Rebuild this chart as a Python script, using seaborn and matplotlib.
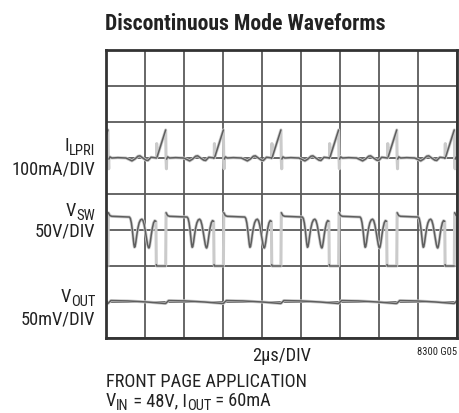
import numpy as np
import pandas as pd
import matplotlib
matplotlib.use("Agg")
import matplotlib.pyplot as plt
import seaborn as sns
from matplotlib import font_manager

# ---- data ----
# turn-off instants of the primary switch (peaks of I_LPRI), in microseconds
switch_off_us = [-2.86, 0.10, 3.06, 6.02, 8.97, 11.93, 14.91, 17.86]

# one switching period of each trace, time relative to turn-off (us)
ilpri_t = [-0.47, -0.46, -0.45, -0.44, 0.00, 0.01, 0.02, 0.04, 0.05, 0.10, 0.20,
           0.51, 0.92, 1.08, 1.23, 1.38, 1.54, 1.64, 1.79, 1.95, 2.05, 2.21, 2.36, 2.49]
ilpri_mA = [0, 40, 4, 3, 78, 40, -5, -30, -3, 3, 0,
            1, 0, -4, -8, -3, 5, 6, 0, -6, -7, 2, 1, 0]
# points where a fast (faint) edge ends and a new solid piece begins
ilpri_fast = [1, 2, 3, 5, 6, 7, 8]

vsw_t = [0.00, 0.02, 0.10, 0.20, 1.10, 1.15, 1.20, 1.25, 1.30, 1.33, 1.36, 1.39,
         1.43, 1.48, 1.54, 1.60, 1.67, 1.74, 1.80, 1.86, 1.92, 1.98, 2.03, 2.07,
         2.10, 2.13, 2.17, 2.22, 2.28, 2.34, 2.40, 2.46, 2.48, 2.50, 2.95]
vsw_V = [0, 74, 70, 69, 68, 66, 60, 50, 37, 30, 26, 27,
         33, 43, 53, 60, 64, 65, 63, 57, 48, 38, 30, 26,
         25, 27, 33, 43, 53, 60, 63, 62, 2, 0, 0]
vsw_fast = [1, 32]

vout_t = [0.00, 0.15, 1.00, 2.00, 2.90]
vout_mV = [-2, 2, 1.5, 0, -2]
vout_fast = []

trace_names = ["I_LPRI", "V_SW", "V_OUT"]
per_div = [100.0, 50.0, 50.0]
offset_div = [5.0, 2.0, 1.0]
templates = [(ilpri_t, ilpri_mA, ilpri_fast), (vsw_t, vsw_V, vsw_fast),
             (vout_t, vout_mV, vout_fast)]

rows = []
piece = 0
for name, scale, off, (tt, vv, fast) in zip(trace_names, per_div, offset_div, templates):
    piece += 1
    for t0 in switch_off_us:
        for k, (t, v) in enumerate(zip(tt, vv)):
            if k in fast:
                piece += 1
            rows.append({"time": t0 + t, "div": off + v / scale, "trace": name,
                         "piece": piece})
df = pd.DataFrame(rows)

# ---- fonts ----
names = {f.name for f in font_manager.fontManager.ttflist}
fam = None
for cand in ["Liberation Sans Narrow", "Roboto Condensed", "DejaVu Sans Condensed",
             "Open Sans Condensed", "Noto Sans Condensed"]:
    if cand in names:
        fam = cand
        break

sns.set_style("white")
if fam:
    plt.rcParams["font.family"] = [fam, "DejaVu Sans"]
    SHRINK = 1.0
else:
    plt.rcParams["font.family"] = ["DejaVu Sans"]
    SHRINK = 0.85

W, H = 459, 414
fig = plt.figure(figsize=(W / 100, H / 100), dpi=100)
L, R, T, B = 106, 457, 51, 339
ax = fig.add_axes([L / W, 1 - B / H, (R - L) / W, (B - T) / H])

# faint halo: whole trace including the fast edges
sns.lineplot(data=df, x="time", y="div", hue="trace", units="trace", estimator=None,
             sort=False, palette={n: "#cbcbcb" for n in trace_names}, linewidth=2.2,
             legend=False, ax=ax)
# solid core: slow parts only
sns.lineplot(data=df, x="time", y="div", hue="trace", units="piece", estimator=None,
             sort=False, palette={n: "#5e5e5e" for n in trace_names}, linewidth=1.1,
             legend=False, ax=ax)

ax.set_xlim(0, 18)
ax.set_ylim(0, 8)
ax.set_xticks(np.arange(0, 19, 2))
ax.set_yticks(np.arange(0, 9, 1))
ax.grid(True, color="#5a5a5a", linewidth=1.3)
ax.set_axisbelow(True)
ax.tick_params(length=0, labelbottom=False, labelleft=False)
ax.set_xlabel("")
ax.set_ylabel("")
for s in ax.spines.values():
    s.set_visible(True)
    s.set_color("#333333")
    s.set_linewidth(2.0)


def px(x, y):
    return x / W, 1 - y / H


fs = 13.2 * SHRINK
SUB = 0.8
SUB_DROP = 4.0
COL = "#222222"
renderer = fig.canvas.get_renderer()


def text_width(s, size):
    t = fig.text(0, 0, s, fontsize=size)
    w = t.get_window_extent(renderer).width
    t.remove()
    return w


def rich(x, y, parts, ha="left"):
    """parts: list of (string, is_subscript); x,y in pixels (baseline)."""
    widths = [text_width(s, fs * (SUB if sub else 1.0)) for s, sub in parts]
    x0 = x - sum(widths) if ha == "right" else x
    for (s, sub), w in zip(parts, widths):
        fig.text(*px(x0, y + (SUB_DROP if sub else 0)), s, fontsize=fs * (SUB if sub else 1.0),
                 ha="left", va="baseline", color=COL)
        x0 += w


fig.text(*px(105, 29.5), "Discontinuous Mode Waveforms", fontsize=15.7 * SHRINK,
         fontweight="bold", ha="left", va="baseline", color=COL)

rich(95, 150.7, [("I", False), ("LPRI", True)], ha="right")
fig.text(*px(95, 174.3), "100mA/DIV", fontsize=fs, ha="right", va="baseline", color=COL)
rich(95, 216.0, [("V", False), ("SW", True)], ha="right")
fig.text(*px(95, 237.0), "50V/DIV", fontsize=fs, ha="right", va="baseline", color=COL)
rich(95, 302.0, [("V", False), ("OUT", True)], ha="right")
fig.text(*px(95, 324.5), "50mV/DIV", fontsize=fs, ha="right", va="baseline", color=COL)

fig.text(*px(281.7, 360.7), "2µs/DIV", fontsize=fs, ha="center", va="baseline", color=COL)
fig.text(*px(457, 355), "8300 G05", fontsize=7.6 * SHRINK, ha="right", va="baseline", color=COL)
fig.text(*px(106, 387.3), "FRONT PAGE APPLICATION", fontsize=fs, ha="left", va="baseline",
         color=COL)
rich(106, 406, [("V", False), ("IN", True), (" = 48V, I", False), ("OUT", True),
                (" = 60mA", False)])

fig.savefig("out.png", dpi=100)
